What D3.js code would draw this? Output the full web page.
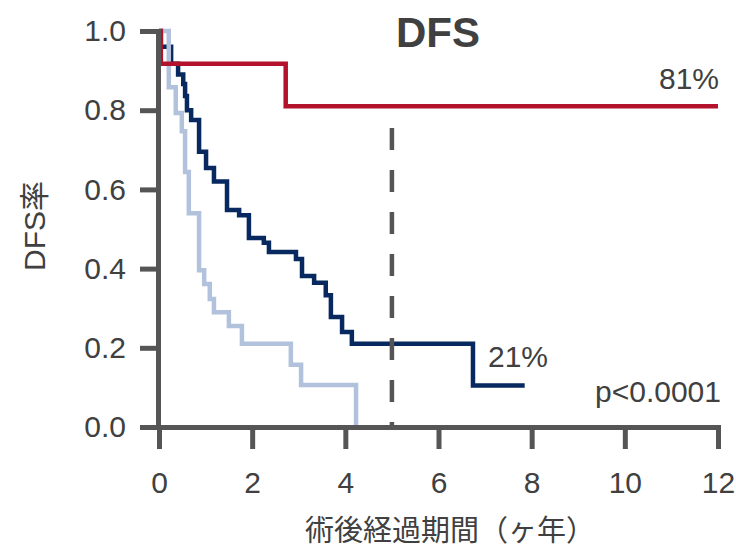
<!DOCTYPE html>
<html>
<head>
<meta charset="utf-8">
<script src="https://cdn.jsdelivr.net/npm/d3@7"></script>
<style>
  html, body { margin: 0; padding: 0; background: #fff; }
  svg { display: block; }
</style>
</head>
<body>
<svg id="chart" width="736" height="548"></svg>
<script>
// Kaplan–Meier style disease-free survival curves (years after surgery)
const redTimes = [0, 0.04, 2.72, 12];
const redSurv  = [1.0, 0.917, 0.81, 0.81];

const navyTimes = [0, 0.04, 0.26, 0.41, 0.52, 0.56, 0.60, 0.69, 0.86, 1.01, 1.18, 1.46, 1.72, 1.93,
                   2.25, 2.36, 2.94, 3.07, 3.33, 3.58, 3.69, 3.93, 4.14, 6.74, 7.85];
const navySurv  = [1.0, 0.96, 0.917, 0.89, 0.866, 0.836, 0.80, 0.775, 0.695, 0.654, 0.62, 0.548, 0.535, 0.477,
                   0.465, 0.442, 0.424, 0.381, 0.364, 0.333, 0.278, 0.24, 0.21, 0.105, 0.105];

const lightTimes = [0, 0.21, 0.36, 0.49, 0.56, 0.64, 0.86, 0.97, 1.09, 1.18, 1.50, 1.78, 2.83, 3.05, 4.23];
const lightSurv  = [1.0, 0.858, 0.793, 0.747, 0.644, 0.54, 0.396, 0.361, 0.323, 0.29, 0.255, 0.21, 0.157, 0.106, 0];

const xTicks = [0, 2, 4, 6, 8, 10, 12];
const yTicks = [0, 0.2, 0.4, 0.6, 0.8, 1.0];

const refYear = 5;       // 5-year marker
const refTop = 0.755;

const titleText = "DFS";
const yTitle = "DFS率";
const xTitle = "術後経過期間（ヶ年）";
const redLabel = "81%";
const navyLabel = "21%";
const pLabel = "p<0.0001";

const C = {
  red: "#b3112c",
  navy: "#07295f",
  light: "#b3c2dc",
  axis: "#555555",
  text: "#404040"
};
const FONT = "'Liberation Sans', Arial, sans-serif";
const MIXED = "'Liberation Sans', 'Noto Sans CJK JP', sans-serif";
const CJK = "'Noto Sans CJK JP', 'Noto Sans', sans-serif";
const NUM_SIZE = "30px";

const svg = d3.select("#chart");
const x = d3.scaleLinear().domain([0, 12]).range([159, 718]);
const y = d3.scaleLinear().domain([0, 1]).range([427, 31]);

const line = d3.line()
  .x(d => x(d[0]))
  .y(d => y(d[1]))
  .curve(d3.curveStepAfter);

function pts(ts, ss) { return ts.map((t, i) => [t, ss[i]]); }

const curves = [
  { data: pts(navyTimes, navySurv), color: C.navy },
  { data: pts(lightTimes, lightSurv), color: C.light },
  { data: pts(redTimes, redSurv), color: C.red }
];

svg.append("g").selectAll("path")
  .data(curves)
  .join("path")
  .attr("d", d => line(d.data))
  .attr("fill", "none")
  .attr("stroke", d => d.color)
  .attr("stroke-width", 4.5)
  .attr("stroke-linejoin", "miter");

// 5-year reference line
svg.append("line")
  .attr("x1", x(refYear)).attr("x2", x(refYear))
  .attr("y1", y(refTop)).attr("y2", y(0))
  .attr("stroke", C.axis)
  .attr("stroke-width", 4.5)
  .attr("stroke-dasharray", "22,20");

// Axes
const yAxis = d3.axisLeft(y).tickValues(yTicks).tickFormat(d3.format(".1f"))
  .tickSize(18).tickSizeOuter(0).tickPadding(14);
const xAxis = d3.axisBottom(x).tickValues(xTicks).tickFormat(d3.format("d"))
  .tickSize(22).tickSizeOuter(0).tickPadding(23);

function styleAxis(g) {
  g.select(".domain").attr("stroke", C.axis).attr("stroke-width", 5).attr("stroke-linecap", "square");
  g.selectAll(".tick line").attr("stroke", C.axis).attr("stroke-width", 5);
  g.selectAll(".tick text").attr("fill", C.text).style("font-family", FONT).style("font-size", NUM_SIZE);
}

svg.append("g").attr("transform", `translate(${x(0) - 1},0)`).call(yAxis).call(styleAxis);
svg.append("g").attr("transform", `translate(0,${y(0)})`).call(xAxis).call(styleAxis);

// Titles and labels
svg.append("text")
  .attr("x", 438).attr("y", 47)
  .attr("text-anchor", "middle")
  .attr("fill", C.text)
  .style("font-family", FONT).style("font-weight", "bold").style("font-size", "42px")
  .text(titleText);

svg.append("text")
  .attr("transform", "translate(45,226) rotate(-90)")
  .attr("text-anchor", "middle")
  .attr("fill", C.text)
  .style("font-family", MIXED).style("font-size", "30px")
  .text(yTitle);

svg.append("text")
  .attr("x", 450).attr("y", 541)
  .attr("text-anchor", "middle")
  .attr("fill", C.text)
  .style("font-family", CJK).style("font-size", "29px")
  .text(xTitle);

svg.append("text")
  .attr("x", 719).attr("y", 89)
  .attr("text-anchor", "end")
  .attr("fill", C.text)
  .style("font-family", FONT).style("font-size", NUM_SIZE)
  .text(redLabel);

svg.append("text")
  .attr("x", 488).attr("y", 367)
  .attr("fill", C.text)
  .style("font-family", FONT).style("font-size", NUM_SIZE)
  .text(navyLabel);

svg.append("text")
  .attr("x", 721).attr("y", 402)
  .attr("text-anchor", "end")
  .attr("fill", C.text)
  .style("font-family", FONT).style("font-size", NUM_SIZE)
  .text(pLabel);
</script>
</body>
</html>
